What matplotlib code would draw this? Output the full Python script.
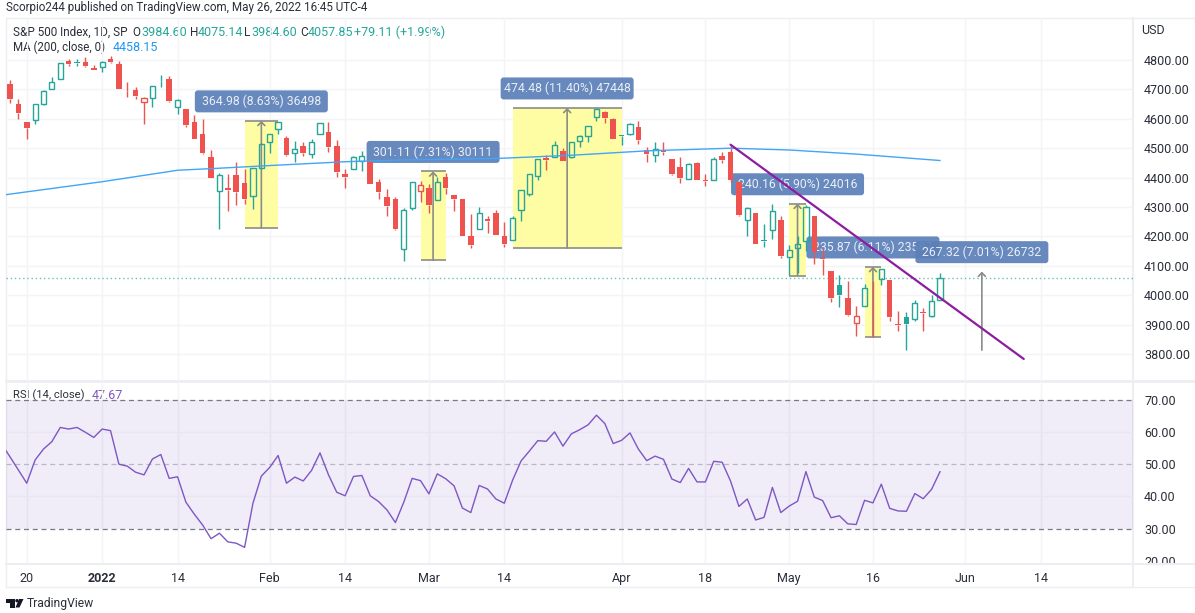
import numpy as np
import matplotlib
matplotlib.use('Agg')
import matplotlib.pyplot as plt
from matplotlib.patches import FancyBboxPatch, Polygon, Circle, Rectangle
from matplotlib.transforms import IdentityTransform

plt.rcParams['font.family'] = ['Roboto', 'DejaVu Sans']

W, H = 1195, 613

# S&P 500 daily candles
OPENS = [4718, 4652, 4588, 4596, 4650, 4703, 4734, 4796, 4792, 4794, 4774, 4777, 4804, 4788, 4696, 4697,
         4656, 4670, 4730, 4734, 4639, 4632, 4588, 4547, 4471, 4356, 4366, 4409, 4380, 4336, 4434, 4520,
         4566, 4536, 4485, 4506, 4481, 4547, 4554, 4506, 4412, 4428, 4456, 4456, 4385, 4333, 4326,
         4156, 4298, 4355, 4363, 4323, 4401, 4342, 4327, 4202, 4224, 4260, 4280, 4202, 4189, 4290,
         4344, 4406, 4465, 4471, 4492, 4469, 4523, 4543, 4605, 4624, 4598, 4546, 4549, 4572, 4493,
         4476, 4493, 4462, 4437, 4394, 4450, 4393, 4391, 4472, 4488, 4386, 4256, 4278, 4187, 4223,
         4255, 4131, 4159, 4183, 4271, 4127, 4081, 4035, 3989, 3904, 3964, 4012, 4054, 4052, 3902,
         3927, 3920, 3943, 3929, 3984.6]
HIGHS = [4732, 4667, 4588, 4649, 4698, 4741, 4791, 4805, 4802, 4809, 4783, 4796, 4815, 4798, 4726, 4707,
         4673, 4713, 4749, 4744, 4667, 4632, 4613, 4601, 4495, 4417, 4411, 4452, 4429, 4431, 4517, 4550,
         4589, 4541, 4525, 4522, 4530, 4587, 4590, 4528, 4429, 4474, 4490, 4459, 4395, 4362, 4335,
         4295, 4385, 4389, 4378, 4403, 4417, 4342, 4327, 4276, 4300, 4269, 4290, 4249, 4270, 4357,
         4411, 4463, 4477, 4523, 4501, 4520, 4545, 4575, 4636, 4627, 4603, 4546, 4585, 4594, 4505,
         4521, 4521, 4464, 4471, 4449, 4454, 4411, 4471, 4488, 4512, 4386, 4301, 4278, 4241, 4309,
         4269, 4170, 4201, 4307, 4271, 4157, 4081, 4069, 4048, 3964, 4038, 4049, 4088, 4052, 3945,
         3944, 3982, 3958, 4000, 4075.14]
LOWS = [4655, 4601, 4532, 4584, 4647, 4703, 4734, 4781, 4779, 4777, 4766, 4760, 4791, 4700, 4674, 4666,
        4583, 4640, 4707, 4658, 4616, 4573, 4533, 4481, 4397, 4224, 4288, 4308, 4310, 4293, 4430, 4485,
        4547, 4473, 4453, 4473, 4466, 4547, 4486, 4403, 4366, 4428, 4422, 4377, 4327, 4269, 4222,
        4116, 4289, 4316, 4281, 4323, 4345, 4286, 4201, 4159, 4224, 4211, 4204, 4163, 4189, 4253,
        4337, 4392, 4426, 4469, 4456, 4467, 4503, 4520, 4591, 4585, 4531, 4510, 4545, 4515, 4452,
        4452, 4476, 4409, 4383, 4394, 4393, 4372, 4391, 4450, 4386, 4270, 4202, 4175, 4165, 4190,
        4128, 4069, 4075, 4150, 4107, 4070, 3978, 3960, 3929, 3860, 3964, 3859, 4036, 3913, 3879,
        3812, 3911, 3877, 3927, 3984.6]
CLOSES = [4668, 4620, 4569, 4649, 4696, 4726, 4791, 4787, 4790, 4778, 4766, 4794, 4793, 4701, 4693, 4677,
          4670, 4713, 4727, 4659, 4663, 4579, 4533, 4483, 4398, 4409, 4358, 4350, 4327, 4431, 4514, 4547,
          4589, 4477, 4499, 4485, 4520, 4587, 4504, 4418, 4402, 4471, 4474, 4379, 4350, 4304, 4224,
          4290, 4385, 4374, 4307, 4386, 4363, 4328, 4201, 4171, 4278, 4253, 4204, 4174, 4262, 4357,
          4411, 4463, 4461, 4511, 4456, 4520, 4543, 4575, 4632, 4604, 4531, 4543, 4582, 4527, 4482,
          4498, 4488, 4412, 4397, 4446, 4393, 4388, 4462, 4460, 4392, 4272, 4297, 4175, 4184, 4288,
          4132, 4155, 4175, 4300, 4147, 4124, 3992, 4002, 3934, 3930, 4024, 4010, 4088, 3925, 3900,
          3902, 3975, 3941, 3979, 4057.85]

# 200 day MA, read at a few bars
MA_BARS = [-1, 11, 20, 25, 31, 40, 47, 58, 67, 76, 86, 93, 101, 111]
MA_VALUES = [4340, 4386, 4425, 4432, 4441, 4454, 4460, 4465, 4476, 4491, 4500, 4494, 4480, 4458.15]

# RSI starts one bar left of the pane edge
RSI_VALUES = [56.2, 52.3, 48.2, 44.1, 51.3, 54.7, 57.0, 61.4, 60.9, 61.4, 59.9, 58.3, 60.9, 60.4, 50.0, 49.4,
              47.5, 46.7, 51.6, 53.0, 45.6, 46.1, 38.2, 34.5, 31.1, 26.9, 28.6, 25.9, 25.5, 24.2, 37.9,
              46.3, 49.0, 52.7, 44.1, 46.0, 44.8, 48.1, 53.5, 46.8, 41.3, 40.2, 46.2, 46.5, 40.2, 38.4,
              35.8, 31.9, 38.2, 45.6, 44.9, 40.8, 47.0, 45.5, 43.3, 36.4, 35.0, 43.4, 42.3, 39.2, 37.9,
              45.1, 51.0, 54.1, 57.3, 57.1, 60.0, 55.6, 59.4, 60.7, 62.2, 65.2, 62.6, 56.4, 57.4, 59.7,
              54.7, 51.1, 52.5, 51.5, 45.4, 44.3, 48.7, 44.5, 44.5, 50.9, 50.6, 44.8, 36.9, 39.2, 32.7,
              33.5, 42.8, 35.0, 37.0, 38.5, 47.7, 39.8, 38.7, 33.4, 34.0, 31.5, 31.3, 38.8, 38.0, 43.8,
              36.3, 35.5, 35.4, 40.9, 39.3, 42.2, 47.67]

PRICE_TICKS = [3800, 3900, 4000, 4100, 4200, 4300, 4400, 4500, 4600, 4700, 4800]
RSI_TICKS = [20, 30, 40, 50, 60, 70]
DATE_BARS = [2, 11, 20, 31, 40, 50, 59, 73, 83, 93, 103, 114, 123]
DATE_LABELS = ['20', '2022', '14', 'Feb', '14', 'Mar', '14', 'Apr', '18', 'May', '16', 'Jun', '14']

# date range tools: first bar, last bar, low, high, label
TOOL_STARTS = [28, 49, 60, 93, 102, 116]
TOOL_ENDS = [32, 52, 73, 95, 104, 116]
TOOL_LOWS = [4228, 4119, 4160, 4066, 3858, 3813]
TOOL_HIGHS = [4593, 4421, 4637, 4311, 4096, 4080]
TOOL_LABELS = ['364.98 (8.63%) 36498', '301.11 (7.31%) 30111', '474.48 (11.40%) 47448',
               '240.16 (5.90%) 24016', '235.87 (6.11%) 23587', '267.32 (7.01%) 26732']

TREND_BARS = [86, 121]
TREND_PRICES = [4512, 3783]

GREEN = '#26A69A'
RED = '#EF5350'
GRID = '#F3F4F7'
BORDER = '#ECEEF2'
TEXT = '#2A2E39'
PURPLE = '#7E57C2'
FS = 9.0
LEGEND_FS = 8.5


def pane(top, bottom):
    return [6 / W, 1 - bottom / H, (1133 - 6) / W, (bottom - top) / H]


fig = plt.figure(figsize=(W / 100, H / 100), dpi=100, facecolor='white')

# page layer in image pixels, for header, frame and footer
page = fig.add_axes([0, 0, 1, 1], zorder=0)
page.set_xlim(0, W)
page.set_ylim(H, 0)
page.axis('off')

ax = fig.add_axes(pane(18, 381), zorder=1, facecolor='none')
rsi = fig.add_axes(pane(381, 563.5), zorder=1, facecolor='none', sharex=ax)

# one bar is 8.378 px wide, bar 0 sits at x=10
ax.set_xlim(-0.477, 134.04)
ax.set_ylim(3708, 4943)
rsi.set_ylim(19.2, 75.8)

for a in (ax, rsi):
    for b in DATE_BARS:
        a.axvline(b, color=GRID, lw=1, zorder=0)
    for s in a.spines.values():
        s.set_visible(False)
    a.yaxis.tick_right()
    a.tick_params(length=0)

for t in PRICE_TICKS:
    ax.axhline(t, color=GRID, lw=1, zorder=0)
ax.set_yticks(PRICE_TICKS)
ax.set_yticklabels(['%.2f' % t for t in PRICE_TICKS], fontsize=FS, color=TEXT)
ax.tick_params(axis='y', pad=8)
ax.tick_params(axis='x', labelbottom=False)

# last price line
ax.axhline(CLOSES[-1], color=GREEN, lw=1, ls=(0, (1, 2)), zorder=1, alpha=0.7)

# date range tools go under the candles
for i in range(len(TOOL_LABELS)):
    x0, x1 = TOOL_STARTS[i], TOOL_ENDS[i]
    lo, hi = TOOL_LOWS[i], TOOL_HIGHS[i]
    mid = (x0 + x1) / 2
    if x1 > x0:
        ax.add_patch(Rectangle((x0, lo), x1 - x0, hi - lo, facecolor='#FFFDA3', edgecolor='none', zorder=1))
        ax.hlines([lo, hi], x0, x1, color='#8A8C88', lw=1.2, zorder=2)
    ax.annotate('', xy=(mid, hi), xytext=(mid, lo), zorder=2,
                arrowprops=dict(arrowstyle='->,head_length=0.25,head_width=0.25', color='#8A8C88', lw=1.2,
                                shrinkA=0, shrinkB=0))
    px, py = ax.transData.transform((mid, hi))
    ax.add_patch(FancyBboxPatch((px - 65, py + 8.5 + 1.5), 130, 19,
                                boxstyle='round,pad=1.5,rounding_size=3', transform=IdentityTransform(),
                                facecolor='#5B7FB8', edgecolor='none', alpha=0.92, zorder=3, clip_on=False))
    ax.text(px, py + 19.5, TOOL_LABELS[i], transform=IdentityTransform(), ha='center', va='center',
            fontsize=8.8, color='#E9EEF7', zorder=3)

# candles, hollow when close is above open, coloured against the previous close
for i in range(len(CLOSES)):
    o, h, l, c = OPENS[i], HIGHS[i], LOWS[i], CLOSES[i]
    col = RED if i == 0 or c < CLOSES[i - 1] else GREEN
    top, bot = max(o, c), min(o, c)
    ax.vlines(i, top, h, color=col, lw=1.0, zorder=4)
    ax.vlines(i, l, bot, color=col, lw=1.0, zorder=4)
    if c > o:
        ax.bar(i, top - bot, bottom=bot, width=0.62, facecolor='none', edgecolor=col, lw=1.0, zorder=4)
    else:
        ax.bar(i, max(top - bot, 1.5), bottom=bot, width=0.66, color=col, lw=0, zorder=4)

ax.plot(MA_BARS, MA_VALUES, color='#42A5F5', lw=1.0, zorder=5)
ax.plot(TREND_BARS, TREND_PRICES, color='#8E1C9F', lw=1.6, zorder=6, solid_capstyle='round')

# RSI pane
rsi.axhspan(30, 70, color=PURPLE, alpha=0.11, lw=0, zorder=0)
for t in [40, 60]:
    rsi.axhline(t, color='#E9E6F2', lw=1, zorder=1)
rsi.axhline(70, color='#787B86', lw=0.9, ls=(0, (4, 3)), zorder=2)
rsi.axhline(50, color='#B9B6C6', lw=0.9, ls=(0, (4, 3)), zorder=2)
rsi.axhline(30, color='#787B86', lw=0.9, ls=(0, (4, 3)), zorder=2)
rsi.plot(np.arange(-1, len(RSI_VALUES) - 1), RSI_VALUES, color=PURPLE, lw=1.0, zorder=3)
rsi.set_yticks(RSI_TICKS)
rsi.set_yticklabels(['%.2f' % t for t in RSI_TICKS], fontsize=FS, color=TEXT)
rsi.tick_params(axis='y', pad=8)
rsi.set_xticks(DATE_BARS)
rsi.set_xticklabels(DATE_LABELS, fontsize=FS, color=TEXT)
rsi.tick_params(axis='x', pad=6)
for lab in rsi.get_xticklabels():
    if lab.get_text() == '2022':
        lab.set_fontweight('bold')

# frame
page.plot([6, W], [18, 18], color=BORDER, lw=1)
page.plot([6, W], [587, 587], color=BORDER, lw=1)
page.plot([6, 6], [18, 587], color=BORDER, lw=1)
page.plot([1133, 1133], [18, 587], color=BORDER, lw=1.5)
page.plot([6, W], [381, 381], color=BORDER, lw=2)

# the 20.00 label is cut by the strip under the pane, so cover it
fig.add_artist(Rectangle((1134 / W, 1 - 587 / H), (W - 1134) / W, 23.5 / H, transform=fig.transFigure,
                         facecolor='white', edgecolor='none', zorder=3))
fig.add_artist(plt.Line2D([6 / W, 1], [1 - 563.5 / H] * 2, color=BORDER, lw=1.5, zorder=4))

# header and legend
page.text(6, 8, 'Scorpio244 published on TradingView.com, May 26, 2022 16:45 UTC-4', fontsize=8.35,
          color=TEXT, va='center')
page.text(1141, 30, 'USD', fontsize=FS, color=TEXT, va='center')
page.text(13, 32, 'S&P 500 Index, 1D, SP', fontsize=LEGEND_FS, color=TEXT, va='center')
for x, s, col, size in [(132, 'O', TEXT, LEGEND_FS), (141, '3984.60', GREEN, FS), (190, 'H', TEXT, LEGEND_FS),
                        (198, '4075.14', GREEN, FS), (244, 'L', TEXT, LEGEND_FS), (251, '3984.60', GREEN, FS),
                        (300, 'C', TEXT, LEGEND_FS), (308, '4057.85', GREEN, FS),
                        (354, '+79.11 (+1.99%)', GREEN, FS)]:
    page.text(x, 32, s, fontsize=size, color=col, va='center')
page.text(13, 47.5, 'MA (200, close, 0)', fontsize=8.3, color=TEXT, va='center')
page.text(112.5, 47.5, '4458.15', fontsize=FS, color='#2196F3', va='center')
page.text(13, 395.5, 'RSI (14, close)', fontsize=8.1, color=TEXT, va='center', zorder=5)
page.text(92, 395.5, '47.67', fontsize=FS, color=PURPLE, va='center', zorder=5)

# footer logo and name
page.add_patch(Polygon([(6, 599), (15, 599), (15, 607.5), (10.5, 607.5), (10.5, 602.5), (6, 602.5)],
                       facecolor='#131722', edgecolor='none'))
page.add_patch(Circle((17, 600.7), 1.7, facecolor='#131722', edgecolor='none'))
page.add_patch(Polygon([(19, 599), (23.5, 599), (19.5, 607.5), (15.5, 607.5)], facecolor='#131722',
                       edgecolor='none'))
page.text(27, 604, 'TradingView', fontsize=8.7, color=TEXT, va='center')

fig.savefig('out.png', dpi=100, facecolor='white')
